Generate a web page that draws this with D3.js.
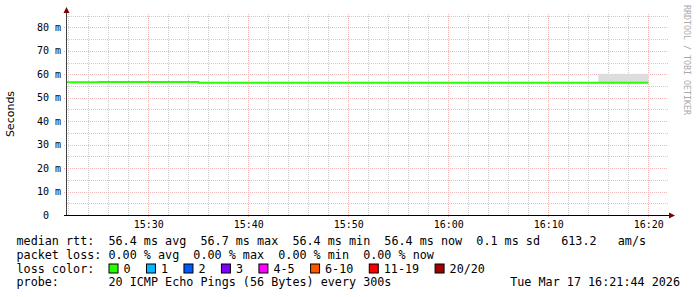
<!DOCTYPE html>
<html>
<head>
<meta charset="utf-8">
<script src="https://cdn.jsdelivr.net/npm/d3@7"></script>
<style>
  body { margin: 0; background: #fff; }
  svg text { white-space: pre; }
</style>
</head>
<body>
<svg id="chart" width="697" height="297"></svg>
<script>
// interval end times (each value covers the 5 min before it)
const times = ["15:25", "15:30", "15:35", "15:40", "15:45", "15:50", "15:55",
               "16:00", "16:05", "16:10", "16:15", "16:20"]
const median = [56.6, 56.7, 56.7, 56.4, 56.4, 56.4, 56.4, 56.4, 56.4, 56.4, 56.4, 56.4]
const smokeLow = [56.6, 56.7, 56.7, 56.4, 56.4, 56.4, 56.4, 56.4, 56.4, 56.4, 56.4, 56.4]
const smokeHigh = [56.6, 56.7, 56.7, 56.4, 56.4, 56.4, 56.4, 56.4, 56.4, 56.4, 56.4, 60.2]
const yTicks = [0, 10, 20, 30, 40, 50, 60, 70, 80]
const lossLabels = ["0", "1", "2", "3", "4-5", "6-10", "11-19", "20/20"]
const lossColors = ["#26ff00", "#00b8ff", "#0059ff", "#7e00ff", "#ff00ff", "#ff5500", "#ff0000", "#a10000"]
const legendRows = [
    "median rtt:  56.4 ms avg  56.7 ms max  56.4 ms min  56.4 ms now  0.1 ms sd   613.2   am/s",
    "packet loss: 0.00 % avg  0.00 % max  0.00 % min  0.00 % now",
    "loss color:",
    "probe:       20 ICMP Echo Pings (56 Bytes) every 300s"
]
const stamp = "Tue Mar 17 16:21:44 2026"

const parseT = d3.timeParse("%Y-%m-%d %H:%M")
const pt = s => parseT("2026-03-17 " + s)
const tStart = d3.timeParse("%Y-%m-%d %H:%M:%S")("2026-03-17 15:21:52")
const tEnd = d3.timeParse("%Y-%m-%d %H:%M:%S")("2026-03-17 16:21:52")

const pLeft = 67, pRight = 667, pTop = 15, pBottom = 215
const x = d3.scaleTime().domain([tStart, tEnd]).range([pLeft, pRight])
const y = d3.scaleLinear().domain([0, 85.3]).range([pBottom, pTop])

const svg = d3.select("#chart")
const mono = "'DejaVu Sans Mono', monospace"

svg.append("defs").append("clipPath").attr("id", "plotclip")
    .append("rect").attr("x", pLeft).attr("y", 0).attr("width", pRight - pLeft).attr("height", pBottom)

// grid
const g = svg.append("g")
const minorY = d3.range(5, 86, 10)
g.selectAll(".hminor").data(minorY).enter().append("line")
    .attr("x1", pLeft).attr("x2", pRight + 1)
    .attr("y1", d => Math.round(y(d)) + 0.5).attr("y2", d => Math.round(y(d)) + 0.5)
    .attr("stroke", "#cdcdcd").attr("stroke-dasharray", "1,1")

const minorX = d3.timeMinute.every(2).range(tStart, tEnd).filter(d => d.getMinutes() % 10 != 0)
g.selectAll(".vminor").data(minorX).enter().append("line")
    .attr("x1", d => Math.round(x(d)) + 0.5).attr("x2", d => Math.round(x(d)) + 0.5)
    .attr("y1", pTop - 1).attr("y2", pBottom)
    .attr("stroke", "#cdcdcd").attr("stroke-dasharray", "1,1")

g.selectAll(".hmajor").data(yTicks.slice(1)).enter().append("line")
    .attr("x1", pLeft - 3).attr("x2", pRight + 1)
    .attr("y1", d => Math.round(y(d)) + 0.5).attr("y2", d => Math.round(y(d)) + 0.5)
    .attr("stroke", "#efb6b6").attr("stroke-dasharray", "1,1")

const majorX = d3.timeMinute.every(10).range(tStart, tEnd)
g.selectAll(".vmajor").data(majorX).enter().append("line")
    .attr("x1", d => Math.round(x(d)) + 0.5).attr("x2", d => Math.round(x(d)) + 0.5)
    .attr("y1", pTop - 1).attr("y2", pBottom + 3)
    .attr("stroke", "#efb6b6").attr("stroke-dasharray", "1,1")

// smoke
const plot = svg.append("g").attr("clip-path", "url(#plotclip)")
times.forEach((t, i) => {
    if (smokeHigh[i] <= smokeLow[i]) return
    const t1 = pt(t), t0 = d3.timeMinute.offset(t1, -5)
    plot.append("rect")
        .attr("x", x(t0)).attr("width", x(t1) - x(t0))
        .attr("y", y(smokeHigh[i])).attr("height", y(smokeLow[i]) - y(smokeHigh[i]))
        .attr("fill", "#dddddd")
})

// median line, stepped
let pts = []
times.forEach((t, i) => {
    const t1 = pt(t), t0 = d3.timeMinute.offset(t1, -5)
    pts.push([t0, median[i]], [t1, median[i]])
})
plot.append("path")
    .attr("d", d3.line().x(d => x(d[0])).y(d => y(d[1]))(pts))
    .attr("fill", "none").attr("stroke", lossColors[0]).attr("stroke-width", 2)

// axes
svg.append("line").attr("x1", pLeft - 0.5).attr("x2", pLeft - 0.5).attr("y1", pBottom).attr("y2", 11)
    .attr("stroke", "#404040")
svg.append("path").attr("d", `M${pLeft - 3.5},13 L${pLeft - 0.5},7 L${pLeft + 2.5},13 Z`).attr("fill", "#7f0000")
svg.append("line").attr("x1", pLeft - 3).attr("x2", pRight + 3).attr("y1", pBottom + 0.5).attr("y2", pBottom + 0.5)
    .attr("stroke", "#000")
svg.append("path").attr("d", `M${pRight + 2},${pBottom - 2.5} L${pRight + 8},${pBottom + 0.5} L${pRight + 2},${pBottom + 3.5} Z`).attr("fill", "#7f0000")

// tick labels
svg.selectAll(".ylab").data(yTicks).enter().append("text")
    .attr("x", 61).attr("y", d => y(d) + 3.5)
    .attr("text-anchor", "end")
    .style("font-family", mono).style("font-size", "10px").attr("fill", "#000")
    .text(d => d == 0 ? "0  " : d + " m")

const xfmt = d3.timeFormat("%H:%M")
svg.selectAll(".xlab").data(majorX).enter().append("text")
    .attr("x", d => x(d) + 0.5).attr("y", 228)
    .attr("text-anchor", "middle")
    .style("font-family", mono).style("font-size", "10px").attr("fill", "#000")
    .text(d => xfmt(d))

svg.append("text")
    .attr("transform", "translate(14,114) rotate(-90)")
    .attr("text-anchor", "middle")
    .style("font-family", "'DejaVu Sans', sans-serif").style("font-size", "11px").attr("fill", "#000")
    .text("Seconds")

svg.append("text")
    .attr("transform", "translate(684,5) rotate(90)")
    .style("font-family", mono).style("font-size", "8.3px").attr("fill", "#aaa")
    .text("RRDTOOL / TOBI OETIKER")

// legend
const charW = 7.08
const rowY = [245, 259, 272.5, 286]
legendRows.forEach((r, i) => {
    svg.append("text").attr("x", 16.5).attr("y", rowY[i])
        .style("font-family", mono).style("font-size", "11.75px").attr("fill", "#000")
        .text(r)
})
let bx = 108.5
lossLabels.forEach((l, i) => {
    svg.append("rect").attr("x", bx + 0.5).attr("y", rowY[2] - 8.5).attr("width", 9).attr("height", 9)
        .attr("fill", lossColors[i]).attr("stroke", "#000")
    svg.append("text").attr("x", bx + 15).attr("y", rowY[2])
        .style("font-family", mono).style("font-size", "11.75px").attr("fill", "#000")
        .text(l)
    bx = bx + 15 + l.length * charW + 15.4
})
svg.append("text").attr("x", 680).attr("y", rowY[3]).attr("text-anchor", "end")
    .style("font-family", mono).style("font-size", "11.75px").attr("fill", "#000")
    .text(stamp)
</script>
</body>
</html>
